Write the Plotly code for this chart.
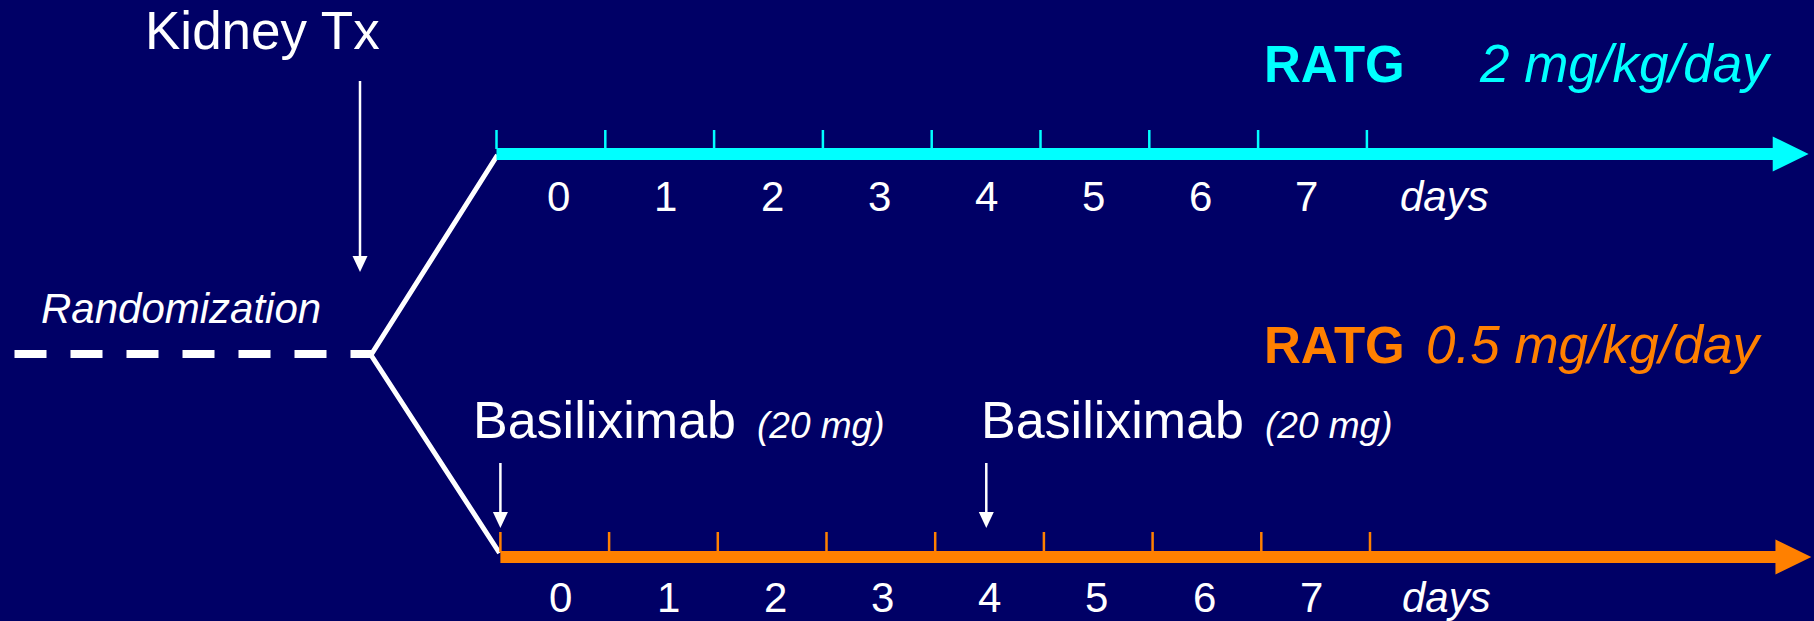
import plotly.graph_objects as go

W, H = 1814, 621
BG = "#000066"
CYAN = "#00FFFF"
ORANGE = "#FF8000"
WHITE = "#FFFFFF"
FONT = "Liberation Sans, Arial, sans-serif"

# ---- timeline content ----
day_labels = ["0", "1", "2", "3", "4", "5", "6", "7"]
day_boundaries = [0, 1, 2, 3, 4, 5, 6, 7, 8]
arm_names = ["RATG", "RATG"]
arm_doses = ["2 mg/kg/day", "0.5 mg/kg/day"]
arm_colors = [CYAN, ORANGE]
basiliximab_at = [0.0, 4.47]          # timeline position of each dose (days)
basiliximab_dose = ["(20 mg)", "(20 mg)"]

# ---- geometry (pixels) ----
SHAFT_END, ARROW_TIP = 11.73, 12.06   # in days along each timeline
top_axis = dict(px0=496.5, ppd=108.8, y=154, tick_top=130, label_base=211,
                lab0=0.574, lab_step=0.982, unit_at=8.71)
bot_axis = dict(px0=500.4, ppd=108.7, y=557, tick_top=532, label_base=612,
                lab0=0.557, lab_step=0.986, unit_at=8.70)


def axis_range(px0, ppd):
    return [-px0 / ppd, (W - px0) / ppd]


def center_from_baseline(base, size):
    return base - 0.35 * size


fig = go.Figure()

# timelines: thick arrow, ticks, day labels
for axis, xref, color in [(top_axis, "x2", CYAN), (bot_axis, "x3", ORANGE)]:
    yc = axis["y"]
    fig.add_trace(go.Scatter(
        x=[0, SHAFT_END, SHAFT_END, ARROW_TIP, SHAFT_END, SHAFT_END, 0, 0],
        y=[yc - 6, yc - 6, yc - 17.5, yc, yc + 17.5, yc + 6, yc + 6, yc - 6],
        xaxis=xref, yaxis="y", mode="lines", fill="toself",
        fillcolor=color, line=dict(width=0, color=color),
        hoverinfo="skip", showlegend=False))
    tx, ty = [], []
    for d in day_boundaries:
        tx += [d, d, None]
        ty += [axis["tick_top"], yc - 5, None]
    fig.add_trace(go.Scatter(
        x=tx, y=ty, xaxis=xref, yaxis="y", mode="lines",
        line=dict(width=2.5, color=color), hoverinfo="skip", showlegend=False))
    for i, lab in enumerate(day_labels):
        fig.add_annotation(
            x=axis["lab0"] + i * axis["lab_step"],
            y=center_from_baseline(axis["label_base"], 42),
            xref=xref, yref="y", text=lab, showarrow=False,
            xanchor="center", yanchor="middle",
            font=dict(family=FONT, size=42, color=WHITE))
    fig.add_annotation(
        x=axis["unit_at"], y=center_from_baseline(axis["label_base"], 42),
        xref=xref, yref="y", text="<i>days</i>", showarrow=False,
        xanchor="center", yanchor="middle",
        font=dict(family=FONT, size=42, color=WHITE))

# randomization: dashed lead-in and fork
fig.add_trace(go.Scatter(
    x=[14.5, 371], y=[354, 354], mode="lines",
    line=dict(width=8, color=WHITE, dash="32px,24px"),
    hoverinfo="skip", showlegend=False))
fig.add_trace(go.Scatter(
    x=[497.5, 371, 499.5], y=[155, 355, 553], mode="lines",
    line=dict(width=5, color=WHITE), hoverinfo="skip", showlegend=False))

# Kidney Tx arrow
fig.add_trace(go.Scatter(
    x=[360, 360], y=[81, 258], mode="lines",
    line=dict(width=2.5, color=WHITE), hoverinfo="skip", showlegend=False))
fig.add_trace(go.Scatter(
    x=[352.5, 367.5, 360, 352.5], y=[256, 256, 272, 256], mode="lines",
    fill="toself", fillcolor=WHITE, line=dict(width=0, color=WHITE),
    hoverinfo="skip", showlegend=False))

# Basiliximab arrows on the lower timeline
hw = 7.5 / bot_axis["ppd"]
for xb in basiliximab_at:
    fig.add_trace(go.Scatter(
        x=[xb, xb], y=[463, 514], xaxis="x3", yaxis="y", mode="lines",
        line=dict(width=2.5, color=WHITE), hoverinfo="skip", showlegend=False))
    fig.add_trace(go.Scatter(
        x=[xb - hw, xb + hw, xb, xb - hw], y=[512, 512, 528, 512],
        xaxis="x3", yaxis="y", mode="lines", fill="toself",
        fillcolor=WHITE, line=dict(width=0, color=WHITE),
        hoverinfo="skip", showlegend=False))

# text labels (pixel positions)
def label(x, base, text, size, color, anchor="left", xref="x"):
    fig.add_annotation(
        x=x, y=center_from_baseline(base, size), xref=xref, yref="y",
        text=text, showarrow=False, xanchor=anchor, yanchor="middle",
        borderpad=0, font=dict(family=FONT, size=size, color=color))

label(262, 49, "Kidney Tx", 53, WHITE, "center")
label(181, 323, "<i>Randomization</i>", 42, WHITE, "center")

label(1263, 82, "<b>" + arm_names[0] + "</b>", 51, arm_colors[0])
label(1478, 82, "<i>" + arm_doses[0] + "</i>", 53, arm_colors[0])
label(1263, 363, "<b>" + arm_names[1] + "</b>", 51, arm_colors[1])
label(1425, 363, "<i>" + arm_doses[1] + "</i>", 53, arm_colors[1])

for xb, dose, xtxt in zip(basiliximab_at, basiliximab_dose, [472, 980]):
    label(xtxt, 438, "Basiliximab", 52, WHITE)
    label(xtxt + 284, 438, "<i>" + dose + "</i>", 37, WHITE)

fig.update_layout(
    width=W, height=H,
    margin=dict(l=0, r=0, t=0, b=0),
    paper_bgcolor=BG, plot_bgcolor=BG,
    showlegend=False,
    xaxis=dict(range=[0, W], visible=False, fixedrange=True),
    xaxis2=dict(range=axis_range(top_axis["px0"], top_axis["ppd"]),
                overlaying="x", visible=False, fixedrange=True),
    xaxis3=dict(range=axis_range(bot_axis["px0"], bot_axis["ppd"]),
                overlaying="x", visible=False, fixedrange=True),
    yaxis=dict(range=[H, 0], visible=False, fixedrange=True),
)

fig.write_html("out.html", config={"displayModeBar": False})
